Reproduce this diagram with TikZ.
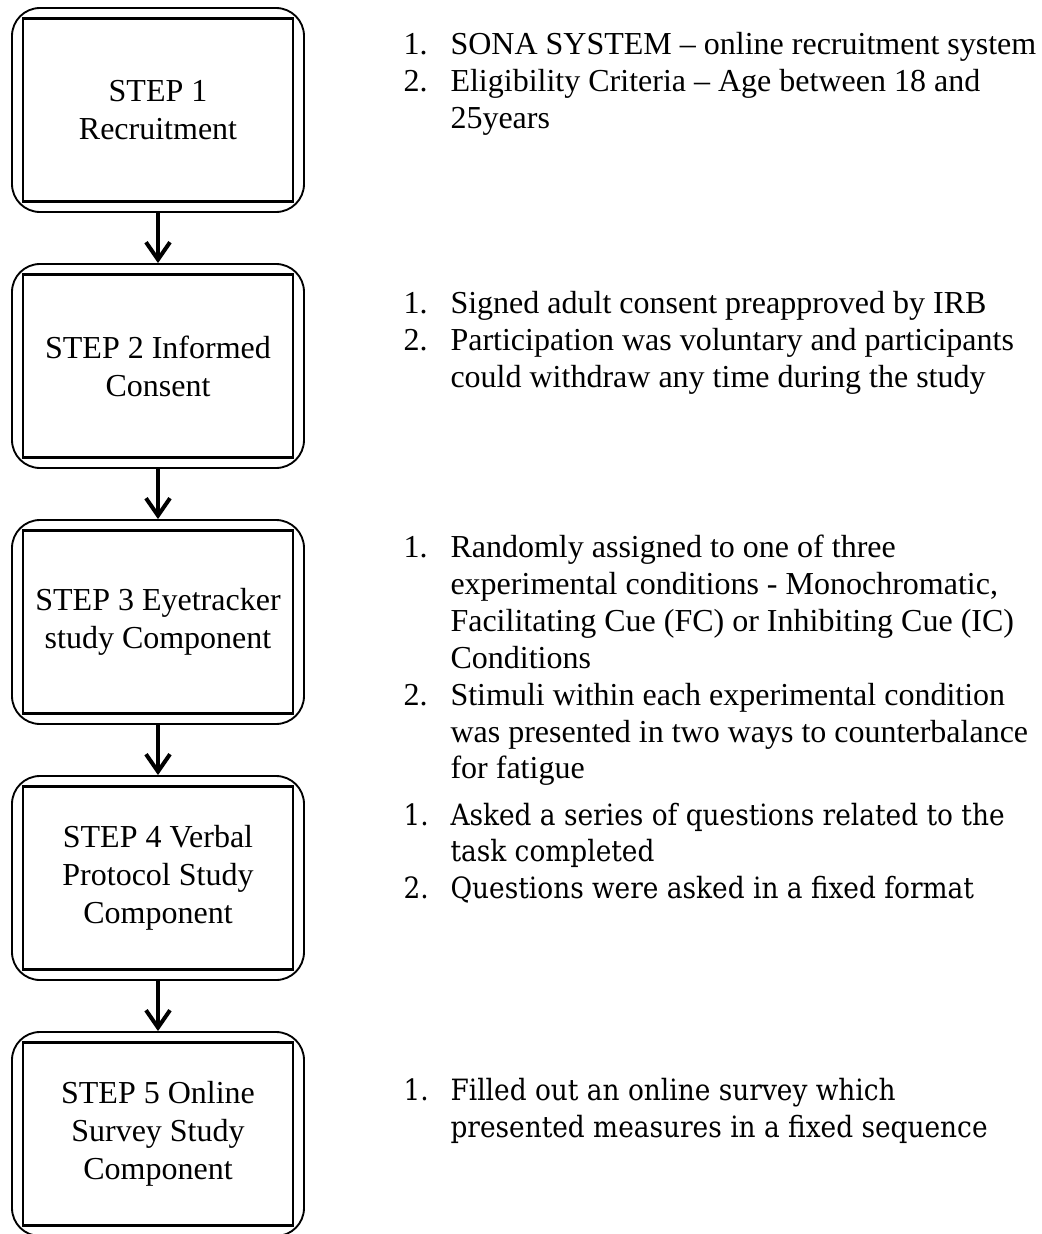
\documentclass[tikz,border=0pt]{standalone}
\usepackage{fontspec}
\setmainfont{Liberation Serif}
\newfontfamily\cambriaish{DejaVu Serif Condensed}
\usetikzlibrary{positioning,arrows.meta}

\tikzset{
  outerbox/.style={draw, line width=0.7pt, rounded corners=10.5pt, minimum width=109.5pt, minimum height=76.5pt, inner sep=0pt},
  innerbox/.style={draw, line width=0.9pt, minimum width=101.3pt, minimum height=68.6pt, inner sep=0pt, align=center, font=\fontsize{12}{14.2}\selectfont},
  flow/.style={-{Straight Barb[length=6.5pt,width=9pt]}, line width=1.5pt},
  num/.style={anchor=base west, inner sep=0pt, font=\fontsize{12}{14}\selectfont},
  item/.style={anchor=base west, inner sep=0pt, font=\fontsize{12}{14}\selectfont},
  numc/.style={num, font=\cambriaish\fontsize{11}{13}\selectfont},
  itemc/.style={item, font=\cambriaish\fontsize{11}{13}\selectfont}
}

\begin{document}
\begin{tikzpicture}[x=0.375pt, y=-0.375pt]
    \useasboundingbox (0,0) rectangle (1041,1234);

    % the five steps
    \node[outerbox] (s1) at (158,110) {};
    \node[outerbox, below=18.8pt of s1] (s2) {};
    \node[outerbox, below=18.8pt of s2] (s3) {};
    \node[outerbox, below=18.8pt of s3] (s4) {};
    \node[outerbox, below=18.8pt of s4] (s5) {};

    \node[innerbox] (s1in) at (s1.center) {STEP 1\\Recruitment};
    \node[innerbox] (s2in) at (s2.center) {STEP 2 Informed\\Consent};
    \node[innerbox] (s3in) at (s3.center) {STEP 3 Eyetracker\\study Component};
    \node[innerbox] (s4in) at (s4.center) {STEP 4 Verbal\\Protocol Study\\Component};
    \node[innerbox] (s5in) at (s5.center) {STEP 5 Online\\Survey Study\\Component};

    \draw[flow] (s1.south) -- (s2.north);
    \draw[flow] (s2.south) -- (s3.north);
    \draw[flow] (s3.south) -- (s4.north);
    \draw[flow] (s4.south) -- (s5.north);

    % notes for step 1
    \node[num] (n1a) at (403,55) {1.};
    \node[item] (t1a) at (450,55) {SONA SYSTEM – online recruitment system};
    \node[num] (n1b) at (403,92) {2.};
    \node[item] (t1b) at (450,92) {Eligibility Criteria – Age between 18 and};
    \node[item] (t1c) at (450,129) {25years};

    % notes for step 2
    \node[num] (n2a) at (403,313) {1.};
    \node[item] (t2a) at (450,313) {Signed adult consent preapproved by IRB};
    \node[num] (n2b) at (403,350) {2.};
    \node[item] (t2b) at (450,350) {Participation was voluntary and participants};
    \node[item] (t2c) at (450,387) {could withdraw any time during the study};

    % notes for step 3
    \node[num] (n3a) at (403,557) {1.};
    \node[item] (t3a) at (450,557) {Randomly assigned to one of three};
    \node[item] (t3b) at (450,594) {experimental conditions - Monochromatic,};
    \node[item] (t3c) at (450,631) {Facilitating Cue (FC) or Inhibiting Cue (IC)};
    \node[item] (t3d) at (450,668) {Conditions};
    \node[num] (n3b) at (403,705) {2.};
    \node[item] (t3e) at (450,705) {Stimuli within each experimental condition};
    \node[item] (t3f) at (450,742) {was presented in two ways to counterbalance};
    \node[item] (t3g) at (450,778) {for fatigue};

    % notes for step 4
    \node[numc] (n4a) at (403,825) {1.};
    \node[itemc] (t4a) at (450,825) {Asked a series of questions related to the};
    \node[itemc] (t4b) at (450,861) {task completed};
    \node[numc] (n4b) at (403,898) {2.};
    \node[itemc] (t4c) at (450,898) {Questions were asked in a fixed format};

    % notes for step 5
    \node[numc] (n5a) at (403,1100) {1.};
    \node[itemc] (t5a) at (450,1100) {Filled out an online survey which};
    \node[itemc] (t5b) at (450,1137) {presented measures in a fixed sequence};
\end{tikzpicture}
\end{document}
